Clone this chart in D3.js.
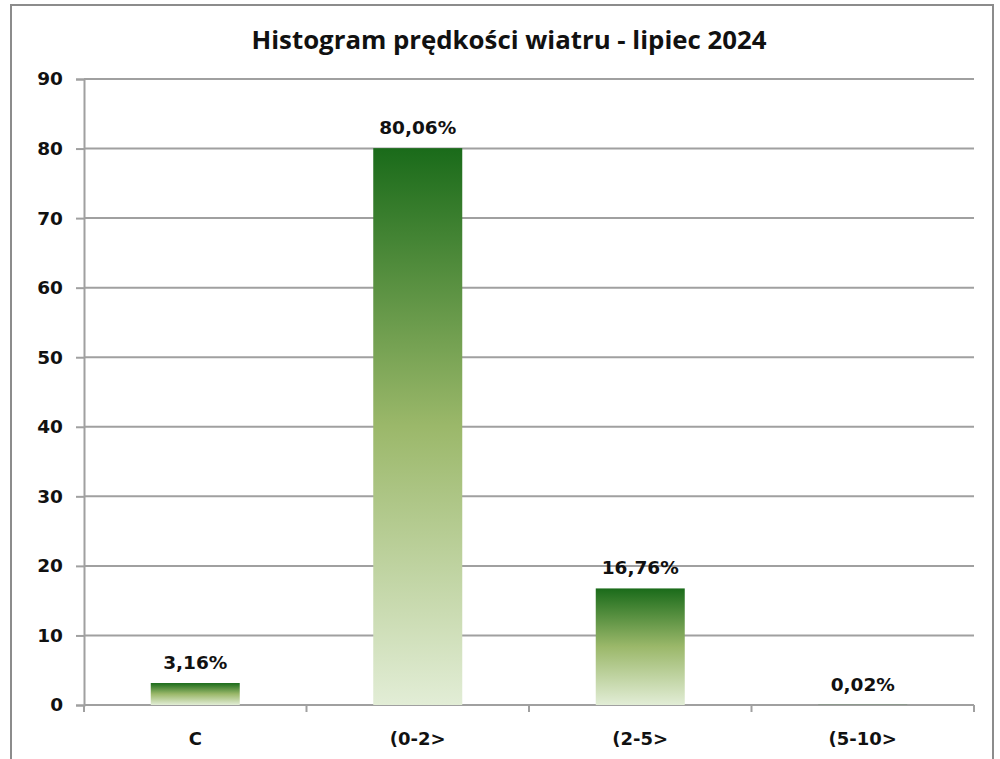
<!DOCTYPE html>
<html lang="pl">
<head>
  <meta charset="UTF-8">
  <title>Histogram</title>
  <style>
    body { margin: 0; background: #fff; }
    text { font-family: "DejaVu Sans", sans-serif; font-weight: bold; fill: #111; }
    .title { font-family: "Open Sans", sans-serif; }
  </style>
</head>
<body>
  <svg width="1000" height="759"></svg>
  <script src="https://cdn.jsdelivr.net/npm/d3@7"></script>
  <script>
    var categories = ['C', '(0-2>', '(2-5>', '(5-10>']
    var values = [3.16, 80.06, 16.76, 0.02]
    var labels = ['3,16%', '80,06%', '16,76%', '0,02%']
    var yTicks = [0, 10, 20, 30, 40, 50, 60, 70, 80, 90]

    var svg = d3.select('svg')
    var plotLeft = 84, plotRight = 974, plotTop = 79, plotBottom = 705

    // frame
    svg.append('rect')
      .attr('x', 11).attr('y', 5)
      .attr('width', 982).attr('height', 770)
      .attr('fill', 'none')
      .attr('stroke', '#8c8c8c')
      .attr('stroke-width', 2)

    svg.append('text')
      .attr('class', 'title')
      .attr('x', 509).attr('y', 49)
      .attr('text-anchor', 'middle')
      .attr('font-size', '25.8px')
      .text('Histogram prędkości wiatru - lipiec 2024')

    var defs = svg.append('defs')
    var grad = defs.append('linearGradient')
      .attr('id', 'barGrad')
      .attr('x1', 0).attr('y1', 0).attr('x2', 0).attr('y2', 1)
    grad.append('stop').attr('offset', '0%').attr('stop-color', '#1a6b1a')
    grad.append('stop').attr('offset', '50%').attr('stop-color', '#9bb86a')
    grad.append('stop').attr('offset', '100%').attr('stop-color', '#e2edd6')

    var x = d3.scaleBand().domain(categories).range([plotLeft, plotRight]).paddingInner(0.6).paddingOuter(0.3)
    var y = d3.scaleLinear().domain([0, 90]).range([plotBottom, plotTop])

    // grid lines
    svg.append('g')
      .selectAll('line')
      .data(yTicks)
      .enter()
      .append('line')
      .attr('x1', plotLeft).attr('x2', plotRight)
      .attr('y1', function(d) { return y(d) })
      .attr('y2', function(d) { return y(d) })
      .attr('stroke', '#a0a0a0')
      .attr('stroke-width', 2)

    var yAxis = svg.append('g')
      .attr('transform', 'translate(' + plotLeft + ',0)')
      .call(d3.axisLeft(y).tickValues(yTicks).tickSize(8).tickPadding(13))
    yAxis.select('.domain').attr('stroke', '#a0a0a0').attr('stroke-width', 2)
    yAxis.selectAll('.tick line').attr('stroke', '#a0a0a0').attr('stroke-width', 2)
    yAxis.selectAll('.tick text').attr('font-size', '18.5px').attr('font-family', null).attr('fill', '#111')

    // x axis with boundary ticks
    var boundaries = d3.range(categories.length + 1).map(function(i) {
      return plotLeft + i * (plotRight - plotLeft) / categories.length
    })
    svg.append('line')
      .attr('x1', plotLeft).attr('x2', plotRight)
      .attr('y1', plotBottom).attr('y2', plotBottom)
      .attr('stroke', '#a0a0a0').attr('stroke-width', 2)
    svg.append('g')
      .selectAll('line')
      .data(boundaries)
      .enter()
      .append('line')
      .attr('x1', function(d) { return d }).attr('x2', function(d) { return d })
      .attr('y1', plotBottom).attr('y2', plotBottom + 7)
      .attr('stroke', '#a0a0a0').attr('stroke-width', 2)

    svg.append('g')
      .selectAll('text')
      .data(categories)
      .enter()
      .append('text')
      .attr('x', function(d) { return x(d) + x.bandwidth() / 2 })
      .attr('y', 745)
      .attr('text-anchor', 'middle')
      .attr('font-size', '18px')
      .text(function(d) { return d })

    svg.append('g')
      .selectAll('rect')
      .data(values)
      .enter()
      .append('rect')
      .attr('x', function(d, i) { return x(categories[i]) })
      .attr('y', function(d) { return y(d) })
      .attr('width', x.bandwidth())
      .attr('height', function(d) { return plotBottom - y(d) })
      .attr('fill', 'url(#barGrad)')

    svg.append('g')
      .selectAll('text')
      .data(values)
      .enter()
      .append('text')
      .attr('x', function(d, i) { return x(categories[i]) + x.bandwidth() / 2 })
      .attr('y', function(d) { return y(d) - 14 })
      .attr('text-anchor', 'middle')
      .attr('font-size', '18.5px')
      .text(function(d, i) { return labels[i] })
  </script>
</body>
</html>
